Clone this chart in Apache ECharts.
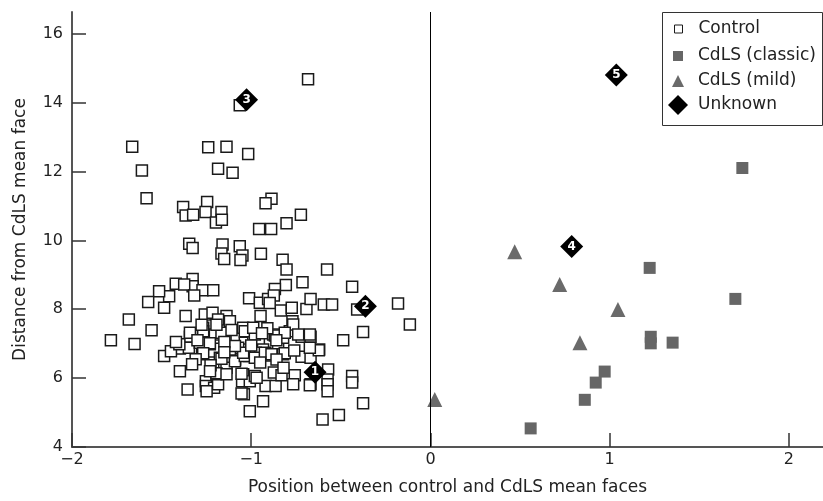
<!DOCTYPE html>
<html>
<head>
<meta charset="utf-8">
<script src="https://cdn.jsdelivr.net/npm/echarts@6/dist/echarts.min.js"></script>
<style>html,body{margin:0;padding:0;background:#fff}#c{width:823px;height:501px}</style>
</head>
<body>
<div id="c"></div>
<script>
var xTicks = [-2, -1, 0, 1, 2];
var yTicks = [4, 6, 8, 10, 12, 14, 16];

var control = [
[-0.683,14.68],[-1.064,13.92],[-1.664,12.72],[-1.610,12.03],[-1.584,11.22],[-1.240,12.70],[-1.138,12.72],[-1.017,12.51],[-1.185,12.08],[-1.104,11.96],[-1.380,10.97],[-1.366,10.72],[-1.324,10.74],[-1.246,11.11],[-1.255,10.82],[-1.166,10.82],[-1.197,10.52],[-1.164,10.60],[-0.887,11.21],[-0.920,11.08],[-0.723,10.74],[-0.803,10.50],[-0.956,10.33],[-0.889,10.33],
[-1.346,9.90],[-1.327,9.78],[-1.160,9.88],[-1.166,9.62],[-1.151,9.46],[-1.064,9.83],[-1.049,9.56],[-1.060,9.43],[-0.946,9.61],[-0.825,9.44],[-0.803,9.15],[-0.577,9.15],
[-0.437,8.65],[-0.714,8.78],[-0.807,8.70],[-1.327,8.88],[-1.327,8.67],[-1.421,8.74],[-1.374,8.72],[-1.272,8.55],[-1.212,8.55],[-1.318,8.40],[-1.458,8.38],[-1.514,8.52],[-1.575,8.21],[-1.486,8.04],[-1.683,7.70],[-1.556,7.39],[-1.783,7.10],[-1.651,6.99],[-1.366,7.80],[-1.012,8.32],[-0.952,8.19],[-0.948,7.80],[-0.906,8.30],[-0.868,8.59],[-0.874,8.40],[-0.835,7.96],[-0.774,8.04],[-0.770,7.65],[-0.692,8.01],[-0.669,8.30],[-0.595,8.14],[-0.549,8.14],[-0.409,7.99],[-0.376,7.34],[-0.487,7.10],[-0.181,8.17],[-0.115,7.56],[-0.897,8.18],
[-1.259,7.85],[-1.216,7.90],[-1.138,7.80],[-1.185,7.70],[-1.119,7.65],[-1.268,7.46],[-1.342,7.20],[-1.398,6.86],[-1.486,6.64],[-1.448,6.78],[-1.348,6.88],[-1.274,6.69],[-1.231,6.98],[-1.212,6.45],[-1.175,6.59],[-1.129,6.54],[-1.082,7.20],[-1.045,7.46],[-1.036,7.03],[-0.989,7.17],[-0.943,7.12],[-0.896,7.03],[-0.878,7.27],[-0.850,6.93],[-0.822,7.17],[-0.785,7.36],[-0.766,7.56],[-0.822,6.69],[-0.892,6.66],[-0.934,6.83],[-0.974,6.74],[-1.012,6.64],[-1.051,6.83],[-1.090,6.54],[-1.073,6.88],[-1.119,6.83],[-1.175,7.17],[-1.287,7.03],[-1.203,7.27],[-0.719,7.20],[-0.669,7.20],[-0.621,6.83],[-0.719,6.62],[-0.669,6.59],
[-1.398,6.20],[-1.355,5.67],[-1.253,5.91],[-1.253,5.77],[-1.207,5.72],[-1.185,5.82],[-1.194,6.11],[-1.138,6.30],[-1.045,6.11],[-1.051,5.91],[-1.008,5.91],[-0.980,6.06],[-1.041,5.53],[-1.008,5.04],[-0.934,5.33],[-0.920,5.77],[-0.864,5.77],[-0.874,6.16],[-0.831,6.08],[-0.757,6.08],[-0.766,5.82],[-0.669,5.82],[-0.571,6.25],[-0.574,5.96],[-0.574,5.82],[-0.574,5.62],[-0.602,4.80],[-0.511,4.93],[-0.437,6.06],[-0.437,5.87],[-0.376,5.27],
[-0.673,7.27],[-0.623,6.81],[-0.673,6.88],[-0.673,5.79],[-1.268,7.36],[-1.231,7.01],[-1.166,7.32],[-1.036,7.36],[-0.980,7.27],[-0.868,7.24],[-0.813,7.32],[-0.738,7.27],[-1.268,6.72],[-1.166,6.56],[-1.091,6.49],[-1.036,6.64],[-0.980,6.59],[-0.924,6.74],[-0.887,6.69],[-0.813,6.72],[-1.194,6.14],[-1.054,6.13],[-0.970,6.01],[-1.054,5.55],[-1.401,6.98],[-1.227,6.37],[-0.989,7.46],[-0.859,6.54],[-1.045,6.74],[-1.091,6.93],[-1.249,5.62],[-1.138,6.11],[-1.277,7.55],[-1.194,7.55],[-1.342,7.32],
[-1.300,7.10],[-1.150,7.05],[-1.000,6.95],[-0.860,7.10],[-1.310,6.55],[-0.950,6.45],[-0.760,6.80],[-1.110,7.40],[-0.910,7.45],[-1.230,6.20],[-0.820,6.30],[-1.420,7.05],[-1.150,6.75],[-0.940,7.30],[-1.330,6.40]
];
var classic = [[1.223,9.20],[1.740,12.10],[1.701,8.30],[1.229,7.20],[1.229,7.01],[1.351,7.03],[0.972,6.19],[0.922,5.87],[0.861,5.37],[0.559,4.54]];
var mild = [[0.470,9.67],[0.721,8.72],[1.046,7.99],[0.834,7.03],[0.024,5.38]];
var unknownX = [-0.644, -0.363, -1.026, 0.788, 1.037];
var unknownY = [6.17, 8.09, 14.08, 9.82, 14.80];
var unknownLabels = ['1', '2', '3', '4', '5'];

var FONT = 'DejaVu Sans';
var unknown = unknownX.map(function (x, i) { return { value: [x, unknownY[i]], name: unknownLabels[i] }; });

var chart = echarts.init(document.getElementById('c'));
function legendItem(name, left, top, w, pad, extra) {
  var l = {
    data: [name], left: left, top: top, padding: 0, itemWidth: w, itemHeight: w,
    selectedMode: false, orient: 'vertical',
    textStyle: { fontFamily: FONT, fontSize: 17, color: '#222', padding: [0, 0, 0, pad] }
  };
  if (extra) l.itemStyle = extra;
  return l;
}
chart.setOption({
  animation: false,
  backgroundColor: '#fff',
  grid: { left: 72, right: 0, top: 12, bottom: 53.3, containLabel: false },
  legend: [
    legendItem('Control', 674, 20.5, 8, 11, { borderWidth: 1 }),
    legendItem('CdLS (classic)', 673, 47.5, 10, 10),
    legendItem('CdLS (mild)', 672, 72.5, 12, 9),
    legendItem('Unknown', 668, 95, 20, 5)
  ],
  graphic: [{ type: 'rect', shape: { x: 662.5, y: 12.5, width: 160, height: 113 }, style: { fill: 'none', stroke: '#333', lineWidth: 1 }, z: 10 }],
  xAxis: {
    type: 'value', min: -2, max: 2.19,
    name: 'Position between control and CdLS mean faces', nameLocation: 'middle', nameGap: 32,
    nameTextStyle: { fontFamily: FONT, fontSize: 17, color: '#222' },
    axisLine: { show: true, onZero: false, lineStyle: { color: '#555', width: 2 } },
    axisTick: { show: true, inside: true, length: 14, customValues: xTicks, lineStyle: { color: '#333', width: 1.5 } },
    axisLabel: { customValues: xTicks, margin: 5, fontFamily: FONT, fontSize: 16, color: '#222',
      formatter: function (v) { return v < 0 ? '\u2212' + Math.abs(v) : String(v); } },
    splitLine: { show: false }
  },
  yAxis: {
    type: 'value', min: 4, max: 16.63,
    name: 'Distance from CdLS mean face', nameLocation: 'middle', nameGap: 43,
    nameTextStyle: { fontFamily: FONT, fontSize: 17, color: '#222' },
    axisLine: { show: true, onZero: false, lineStyle: { color: '#555', width: 2 } },
    axisTick: { show: true, inside: true, length: 14, customValues: yTicks, lineStyle: { color: '#333', width: 1.5 } },
    axisLabel: { customValues: yTicks, margin: 9, fontFamily: FONT, fontSize: 16, color: '#222' },
    splitLine: { show: false }
  },
  series: [
    { name: 'Control', type: 'scatter', symbol: 'rect', symbolSize: 11, data: control,
      itemStyle: { color: '#fff', borderColor: '#1a1a1a', borderWidth: 1.5, opacity: 1 },
      markLine: { silent: true, symbol: 'none', label: { show: false },
        lineStyle: { color: '#000', width: 1, type: 'solid' }, data: [{ xAxis: 0 }] } },
    { name: 'CdLS (classic)', type: 'scatter', symbol: 'rect', symbolSize: 12, data: classic,
      itemStyle: { color: '#666', opacity: 1 } },
    { name: 'CdLS (mild)', type: 'scatter', symbol: 'triangle', symbolSize: 15, data: mild,
      itemStyle: { color: '#6a6a6a', opacity: 1 } },
    { name: 'Unknown', type: 'scatter', symbol: 'diamond', symbolSize: 23, data: unknown,
      itemStyle: { color: '#000', opacity: 1 }, z: 5,
      label: { show: true, position: 'inside', formatter: '{b}', color: '#fff', fontWeight: 'bold', fontSize: 12, fontFamily: 'DejaVu Sans' } }
  ]
});
</script>
</body>
</html>
